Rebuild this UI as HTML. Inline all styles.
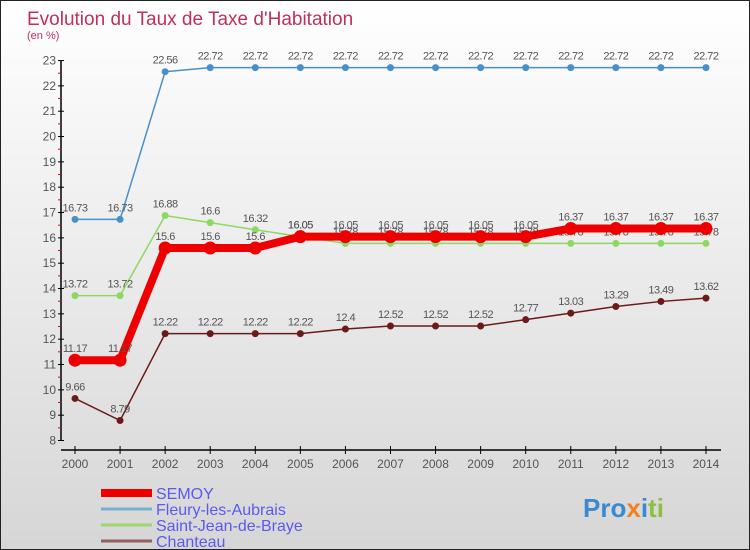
<!DOCTYPE html>
<html><head><meta charset="utf-8"><style>
body{margin:0}
#wrap{width:748px;height:548px;border:1px solid #222;background:linear-gradient(#fff,#d6d6d6);position:relative;font-family:"Liberation Sans",sans-serif;overflow:hidden}
</style></head><body>
<div id="wrap">
<svg id="c" width="748" height="548"></svg>
</div>
<script>
const years=[2000,2001,2002,2003,2004,2005,2006,2007,2008,2009,2010,2011,2012,2013,2014];
const semoy=[11.17,11.17,15.6,15.6,15.6,16.05,16.05,16.05,16.05,16.05,16.05,16.37,16.37,16.37,16.37];
const fleury=[16.73,16.73,22.56,22.72,22.72,22.72,22.72,22.72,22.72,22.72,22.72,22.72,22.72,22.72,22.72];
const sjb=[13.72,13.72,16.88,16.6,16.32,16.05,15.78,15.78,15.78,15.78,15.78,15.78,15.78,15.78,15.78];
const chanteau=[9.66,8.79,12.22,12.22,12.22,12.22,12.4,12.52,12.52,12.52,12.77,13.03,13.29,13.49,13.62];
const yTicks=[8,9,10,11,12,13,14,15,16,17,18,19,20,21,22,23];
const NS='http://www.w3.org/2000/svg';
const svg=document.getElementById('c');
const X=i=>74+i*45.07, Y=v=>439.5-(v-8)*25.33;
function el(t,a,p){const e=document.createElementNS(NS,t);for(const k in a)e.setAttribute(k,a[k]);(p||svg).appendChild(e);return e;}
let t=el('text',{x:26,y:24,fill:'#c0305a','font-size':19});t.textContent='Evolution du Taux de Taxe d\'Habitation';

t=el('text',{x:26,y:38,fill:'#c0305a','font-size':11});t.textContent='(en %)';

let a=el('line',{x1:60,y1:Y(23),x2:60,y2:Y(8),stroke:'#000','stroke-width':1.5});

a=el('line',{x1:60,y1:449,x2:720,y2:449,stroke:'#000','stroke-width':1.5});

yTicks.forEach(v=>{el('line',{x1:57,x2:63,y1:Y(v),y2:Y(v),stroke:'#000'});
 if(v<23)el('line',{x1:57,x2:60,y1:Y(v+0.5),y2:Y(v+0.5),stroke:'#e00'});
 const l=el('text',{x:55,y:Y(v)+4,'text-anchor':'end','font-size':12,fill:'#555'});l.textContent=v;
 });
years.forEach((y,i)=>{el('line',{x1:X(i),x2:X(i),y1:445,y2:453,stroke:'#000'});
 const l=el('text',{x:X(i),y:467,'text-anchor':'middle','font-size':12,fill:'#555'});l.textContent=y;
 });
function series(d,col,w,r,name){
 const p=el('polyline',{points:d.map((v,i)=>X(i)+','+Y(v)).join(' '),fill:'none',stroke:col,'stroke-width':w});
 
 d.forEach((v,i)=>{const c=el('circle',{cx:X(i),cy:Y(v),r:r,fill:col});
  
  const l=el('text',{x:X(i),y:Y(v)-8,'text-anchor':'middle','font-size':11,fill:'#555','letter-spacing':'-0.5'});l.textContent=v;
  });
}
series(chanteau,'#6b1a1a',1.5,3.5,'chanteau');
series(sjb,'#8cd860',1.5,3.5,'saint-jean-de-braye');
series(fleury,'#4a90c8',1.5,3.5,'fleury-les-aubrais');
series(semoy,'#ee0000',8,6.5,'semoy');
const leg=[['SEMOY','#ee0000',8],['Fleury-les-Aubrais','#7aaed0',3],['Saint-Jean-de-Braye','#9cd870',3],['Chanteau','#946060',3]];
leg.forEach((g,i)=>{const y=492+i*16;
 const ln=el('line',{x1:100,x2:151,y1:y,y2:y,stroke:g[1],'stroke-width':g[2]});
 
 const tx=el('text',{x:155,y:y+6,'font-size':16,fill:'#5a5aee'});tx.textContent=g[0];
 });
const lg=el('text',{x:582,y:516,'font-size':26,'font-weight':'bold',fill:'#3a8ad0'});
lg.innerHTML='<tspan fill="#3a8ad0">Pro</tspan><tspan fill="#f08020">x</tspan><tspan fill="#3a8ad0">i</tspan><tspan fill="#8cc040">ti</tspan>';

</script>
</body></html>
